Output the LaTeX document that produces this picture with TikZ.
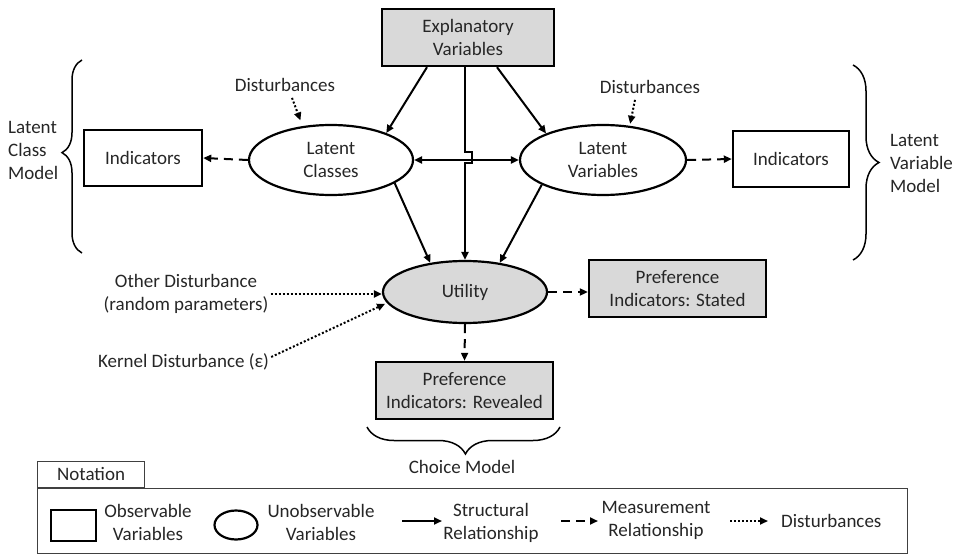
\documentclass[tikz,border=0pt]{standalone}
\usepackage{fontspec}
\setmainfont{Carlito}
\usetikzlibrary{arrows.meta,shapes.geometric,decorations.pathreplacing,calc}
\definecolor{boxgray}{HTML}{D9D9D9}
\definecolor{ink}{HTML}{262626}

\begin{document}
\begin{tikzpicture}[x=1pt,y=-1pt,
  every node/.style={font=\fontsize{19}{23}\selectfont, text=ink},
  tipend/.style={-{Triangle[length=8pt,width=7pt]}},
  obs/.style={draw=black, line width=2.4pt, rectangle, inner sep=0pt, align=center},
  obsfill/.style={obs, fill=boxgray},
  lat/.style={draw=black, line width=2.2pt, ellipse, inner sep=0pt, align=center},
  struct/.style={tipend, line width=2pt},
  both/.style={{Triangle[length=8pt,width=7pt]}-{Triangle[length=8pt,width=7pt]}, line width=2pt},
  meas/.style={tipend, line width=2pt, dash pattern=on 9pt off 6pt},
  dist/.style={tipend, line width=2pt, dash pattern=on 2pt off 2pt},
  lbl/.style={inner sep=2pt, align=center},
  curly/.style={draw, line width=1.5pt, decorate},
]
\useasboundingbox (0,0) rectangle (958,556);

% main model nodes
\node[obsfill, minimum width=172pt, minimum height=57pt] (ex) at (468,37.5) {Explanatory\\Variables};
\node[lat, minimum width=164pt, minimum height=70pt] (lc) at (331,160) {Latent\\Classes};
\node[lat, minimum width=166pt, minimum height=70pt] (lv) at (603,160) {Latent\\Variables};
\node[obs, minimum width=118pt, minimum height=56pt] (il) at (143,158) {Indicators};
\node[obs, minimum width=116pt, minimum height=56pt] (ir) at (791,159) {Indicators};
\node[lat, fill=boxgray, minimum width=164pt, minimum height=62pt] (ut) at (465,292) {Utility};
\node[obsfill, minimum width=177pt, minimum height=57pt] (st) at (677.5,288.5) {Preference\\Indicators: Stated};
\node[obsfill, minimum width=177pt, minimum height=57pt] (rv) at (464.5,390.5) {Preference\\Indicators: Revealed};

% free labels
\node[lbl] (dl) at (285,85) {Disturbances};
\node[lbl] (dr) at (650,87) {Disturbances};
\node[lbl, align=left, anchor=west] (lcm) at (6,150) {Latent\\Class\\Model};
\node[lbl, align=left, anchor=west] (lvm) at (888,163) {Latent\\Variable\\Model};
\node[lbl] (od) at (186,294) {Other Disturbance\\(random parameters)};
\node[lbl] (ke) at (183.5,362) {Kernel Disturbance (ε)};
\node[lbl] (cm) at (462,467) {Choice Model};

% braces grouping the sub-models
\draw[curly, decoration={brace, amplitude=20pt, aspect=0.52}] (82,253) -- (82,60);
\draw[curly, decoration={brace, amplitude=26pt, aspect=0.5}] (853,65) -- (853,260);
\draw[curly, decoration={brace, amplitude=27pt, aspect=0.49}] (560,427) -- (367,427);

% structural relationships
\draw[struct] ([xshift=-41pt]ex.south) -- (lc.26);
\draw[struct] ([xshift=29pt]ex.south) -- (lv.155);
\draw[struct, line join=miter] (ex.south -| ut.north) -- ++(0,85) -- ++(7,0) -- ++(0,11) -- ++(-7,0) -- (ut.north);
\draw[both] (lc.east) -- (lv.west);
\draw[struct] (lc.-20) -- (ut.140);
\draw[struct] (lv.-158) -- (ut.40);

% measurement relationships
\draw[meas] (lc.west) -- (il.east);
\draw[meas] (lv.east) -- (ir.west);
\draw[meas] (ut.east) -- (ut.east -| st.west);
\draw[meas] (ut.south) -- (rv.north);

% disturbances
\draw[dist, shorten >=6pt] ([xshift=7pt,yshift=-4pt]dl.south) -- (lc.130);
\draw[dist, shorten >=2pt] ([xshift=-15pt,yshift=-4pt]dr.south) -- (lv.52);
\draw[dist] (od.east) -- (od.east -| ut.west);
\draw[dist, shorten >=2pt] ([yshift=5pt]ke.east) -- (ut.-172);

% notation legend
\node[draw=black!75, line width=1.2pt, minimum width=870pt, minimum height=65pt, inner sep=0pt, anchor=north west] (legend) at (37,488) {};
\node[draw=black!75, line width=1.2pt, minimum width=107pt, minimum height=26pt, inner sep=0pt, anchor=south west] (tab) at (37,488) {Notation};
\node[obs, minimum width=45pt, minimum height=31pt] (kobs) at (73.5,525.5) {};
\node[lbl] (kobsl) at (148,522.5) {Observable\\Variables};
\node[lat, minimum width=43pt, minimum height=29pt] (klat) at (236,525) {};
\node[lbl] (klatl) at (321,522.5) {Unobservable\\Variables};
\coordinate (ks1) at (402,521);
\coordinate (ks2) at (442,521);
\draw[struct] (ks1) -- (ks2);
\node[lbl] (ksl) at (491,522.5) {Structural\\Relationship};
\coordinate (km1) at (561,521);
\coordinate (km2) at (598,521);
\draw[meas] (km1) -- (km2);
\node[lbl] (kml) at (656,520.5) {Measurement\\Relationship};
\coordinate (kd1) at (730,521);
\coordinate (kd2) at (768,521);
\draw[dist] (kd1) -- (kd2);
\node[lbl, anchor=west] (kdl) at (779,521) {Disturbances};
\end{tikzpicture}
\end{document}
